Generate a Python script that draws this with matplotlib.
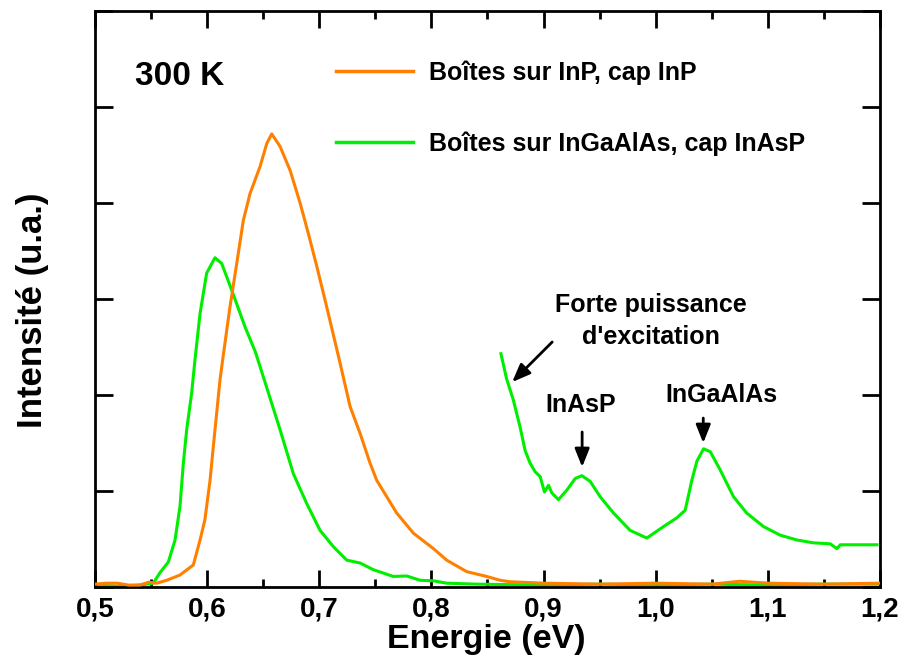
import matplotlib
matplotlib.use("Agg")
import matplotlib.pyplot as plt
from matplotlib.ticker import MultipleLocator, FixedLocator, FixedFormatter

plt.rcParams['font.family'] = ['Liberation Sans', 'DejaVu Sans']
plt.rcParams['font.weight'] = 'bold'

# Orange: Boîtes sur InP, cap InP
inp_x = [0.500, 0.510, 0.520, 0.530, 0.540, 0.548, 0.555, 0.564, 0.5758, 0.5877,
         0.5937, 0.598, 0.6026, 0.6055, 0.6085, 0.6115, 0.6139, 0.6204, 0.6264, 0.6323,
         0.6383, 0.6472, 0.6532, 0.6576, 0.665, 0.674, 0.6829, 0.6903, 0.6978, 0.7066,
         0.7186, 0.7275, 0.7364, 0.7453, 0.7513, 0.7602, 0.7691, 0.784, 0.8018,
         0.8136, 0.8315, 0.8493, 0.8613, 0.870, 0.900, 0.950, 1.000, 1.050, 1.075,
         1.100, 1.150, 1.200]
inp_y = [0.03, 0.04, 0.04, 0.02, 0.02, 0.05, 0.04, 0.07, 0.125, 0.23,
         0.49, 0.70, 1.11, 1.46, 1.81, 2.16, 2.37, 2.92, 3.37, 3.82,
         4.10, 4.38, 4.62, 4.72, 4.59, 4.34, 4.00, 3.68, 3.34, 2.92,
         2.33, 1.88, 1.60, 1.29, 1.11, 0.94, 0.77, 0.56, 0.40,
         0.28, 0.16, 0.11, 0.07, 0.055, 0.04, 0.03, 0.04, 0.03, 0.06,
         0.04, 0.03, 0.04]

# Green: Boîtes sur InGaAlAs, cap InAsP (low excitation)
ing_x = [0.500, 0.520, 0.540, 0.552, 0.558, 0.5654, 0.5714, 0.5758, 0.5788, 0.5818,
         0.5862, 0.5892, 0.5937, 0.5996, 0.607, 0.613, 0.622, 0.6338, 0.643, 0.652,
         0.665, 0.6769, 0.6888, 0.7007, 0.7126, 0.7245, 0.7364, 0.7483, 0.766, 0.778,
         0.790, 0.8015, 0.8137, 0.840, 0.900, 0.950, 1.000, 1.050, 1.100, 1.150, 1.200]
ing_y = [0.02, 0.01, 0.02, 0.04, 0.15, 0.26, 0.49, 0.84, 1.29, 1.64,
         2.02, 2.37, 2.85, 3.27, 3.43, 3.37, 3.09, 2.71, 2.45, 2.12,
         1.64, 1.18, 0.87, 0.59, 0.42, 0.28, 0.25, 0.18, 0.11, 0.115,
         0.07, 0.065, 0.04, 0.03, 0.02, 0.03, 0.02, 0.03, 0.02, 0.03, 0.03]

# Green: high excitation power segment
hi_x = [0.862, 0.867, 0.873, 0.879, 0.8836, 0.888, 0.8925, 0.897, 0.9008, 0.9044, 0.9074,
        0.9133, 0.9208, 0.9282, 0.9341, 0.9416, 0.9505, 0.9624, 0.9772, 0.9921, 1.007,
        1.0188, 1.0263, 1.0322, 1.0367, 1.0427, 1.0486, 1.0575, 1.0694, 1.0812, 1.0961,
        1.111, 1.1259, 1.1407, 1.1556, 1.1616, 1.1646, 1.1973]
hi_y = [2.43, 2.17, 1.95, 1.67, 1.42, 1.29, 1.20, 1.15, 0.99, 1.06, 0.98,
        0.91, 1.01, 1.13, 1.16, 1.10, 0.94, 0.77, 0.59, 0.51, 0.63,
        0.72, 0.80, 1.11, 1.31, 1.44, 1.41, 1.22, 0.94, 0.77, 0.63,
        0.54, 0.49, 0.46, 0.45, 0.40, 0.44, 0.44]

xticks = [0.5, 0.6, 0.7, 0.8, 0.9, 1.0, 1.1, 1.2]
xtick_labels = ["0,5", "0,6", "0,7", "0,8", "0,9", "1,0", "1,1", "1,2"]

orange = "#ff8000"
green = "#00ee00"

fig = plt.figure(figsize=(9.02, 6.63), dpi=100)
ax = fig.add_axes([0.1053, 0.1146, 0.8703, 0.8688])

ax.plot(inp_x, inp_y, color=orange, lw=2.2, label="Boîtes sur InP, cap InP", zorder=3)
ax.plot(ing_x, ing_y, color=green, lw=2.2, label="Boîtes sur InGaAlAs, cap InAsP", zorder=2)
ax.plot(hi_x, hi_y, color=green, lw=2.2, zorder=2)

ax.set_xlim(0.5, 1.2)
ax.set_ylim(0, 6)
ax.xaxis.set_major_locator(FixedLocator(xticks))
ax.xaxis.set_major_formatter(FixedFormatter(xtick_labels))
ax.xaxis.set_minor_locator(MultipleLocator(0.05))
ax.yaxis.set_major_locator(MultipleLocator(1))
ax.set_yticklabels([])
ax.tick_params(which='both', direction='in', top=True, right=True, width=2)
ax.tick_params(which='major', length=12, labelsize=20, pad=7)
ax.tick_params(which='minor', length=6)
ax.tick_params(axis='y', which='major', length=13, left=True, labelleft=False)
for lab in ax.get_xticklabels():
    lab.set_fontweight('bold')
for s in ax.spines.values():
    s.set_linewidth(2)

ax.set_xlabel("Energie (eV)", fontsize=24.5, fontweight='bold')
ax.xaxis.set_label_coords(0.4985, -0.064)
ax.set_ylabel("Intensité (u.a.)", fontsize=25, fontweight='bold')
ax.yaxis.set_label_coords(-0.058, 0.48)

leg = ax.legend(loc='upper left', bbox_to_anchor=(0.307, 0.914), frameon=False,
                handlelength=3.1, handletextpad=0.62, labelspacing=1.85,
                borderpad=0, borderaxespad=0,
                prop={'weight': 'bold', 'size': 18})
for l in leg.get_lines():
    l.set_linewidth(2.5)

ax.text(0.051, 0.887, "300 K", transform=ax.transAxes, fontsize=24, fontweight='bold',
        ha='left', va='center')

arrow_kw = dict(arrowstyle='-|>,head_length=0.55,head_width=0.22', color='black', lw=2,
                mutation_scale=20, shrinkA=0, shrinkB=0)
ax.text(0.996, 2.77, "Forte puissance\nd'excitation", fontsize=18, fontweight='bold',
        ha='center', va='center', linespacing=1.4)
ax.annotate("", xy=(0.872, 2.135), xytext=(0.9077, 2.552), arrowprops=arrow_kw)
ax.text(0.9327, 1.896, "InAsP", fontsize=18, fontweight='bold', ha='center', va='center')
ax.annotate("", xy=(0.9344, 1.25), xytext=(0.9344, 1.615), arrowprops=arrow_kw)
ax.text(1.0584, 2.0, "InGaAlAs", fontsize=18, fontweight='bold', ha='center', va='center')
ax.annotate("", xy=(1.0424, 1.50), xytext=(1.0424, 1.76), arrowprops=arrow_kw)

fig.savefig("out.png", dpi=100)
